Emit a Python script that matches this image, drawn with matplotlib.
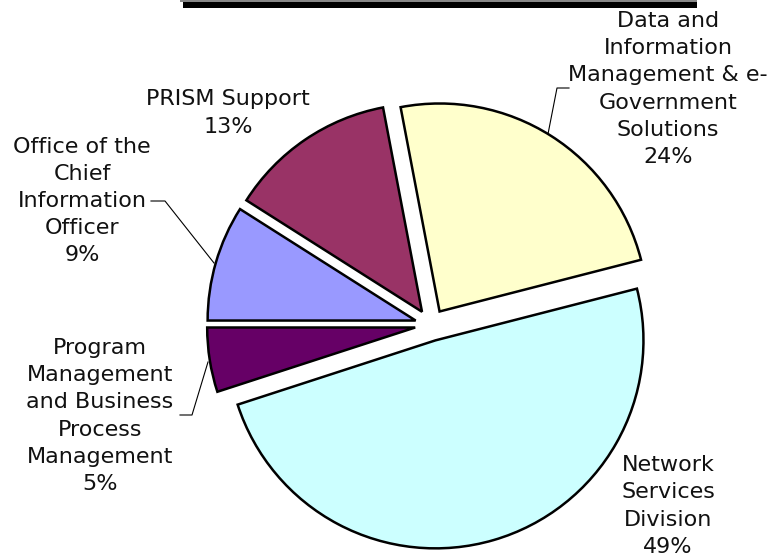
import matplotlib
matplotlib.use("Agg")
import matplotlib.pyplot as plt
from matplotlib.patches import Rectangle

# ---- data ----
categories = [
    "Program\nManagement\nand Business\nProcess\nManagement",
    "Network\nServices\nDivision",
    "Data and\nInformation\nManagement & e-\nGovernment\nSolutions",
    "PRISM Support",
    "Office of the\nChief\nInformation\nOfficer",
]
values = [5, 49, 24, 13, 9]
colors = ["#660066", "#CCFFFF", "#FFFFCC", "#993366", "#9999FF"]

# ---- layout (pixel-based, image y measured from top) ----
W, H = 770, 556
R = 208
CX, CY = 431, 325
EXPLODE = 16  # pixels (data units)
label_pos = [(100, 416), (668, 89), (228, 113), (82, 201)]
label_pos = [(100, 416), (668, 506), (668, 89), (228, 113), (82, 201)]
leaders = [
    [(180, 415), (192, 415), (208, 362)],
    None,
    [(548, 134), (557, 88), (569, 88)],
    None,
    [(151, 201), (165, 201), (214, 263)],
]

def fy(y):
    return H - y

fig = plt.figure(figsize=(W / 100, H / 100), dpi=100)
ax = fig.add_axes([0, 0, 1, 1])
ax.pie(values, colors=colors, startangle=180, counterclock=True,
       explode=[EXPLODE] * len(values), center=(CX, fy(CY)), radius=R,
       wedgeprops=dict(edgecolor="black", linewidth=1.8))
ax.set_aspect("auto")
ax.set_xlim(0, W)
ax.set_ylim(0, H)
ax.axis("off")

total = sum(values)
for cat, v, (lx, ly) in zip(categories, values, label_pos):
    ax.text(lx, fy(ly), f"{cat}\n{round(100 * v / total)}%", ha="center", va="center",
            fontsize=16, family="DejaVu Sans", color="#111111", linespacing=1.45)

for pts in leaders:
    if pts:
        ax.plot([p[0] for p in pts], [fy(p[1]) for p in pts], color="black", lw=0.8)

# remnants of the title box at the top
ax.add_patch(Rectangle((180, fy(1.5)), 517, 1.5, facecolor="#888888", edgecolor="none", clip_on=False))
ax.add_patch(Rectangle((183, fy(7.5)), 514, 6, facecolor="black", edgecolor="none", clip_on=False))

fig.savefig("out.png", dpi=100)
